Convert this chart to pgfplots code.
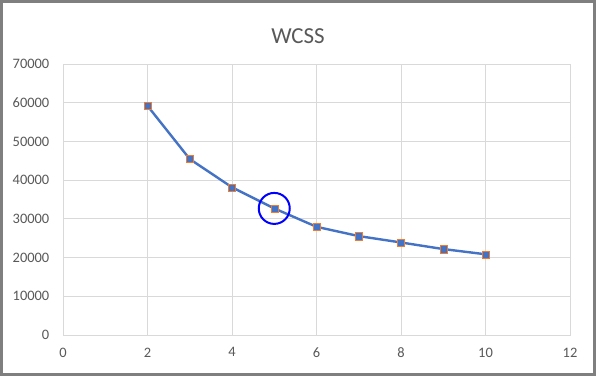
\documentclass[border=0pt]{standalone}
\usepackage{pgfplots}
\pgfplotsset{compat=1.18}
\usepackage{fontspec}
\setmainfont{Carlito}
\definecolor{txtgray}{HTML}{595959}
\definecolor{gridgray}{HTML}{D9D9D9}
\definecolor{axgray}{HTML}{BFBFBF}
\definecolor{xblue}{HTML}{4472C4}
\definecolor{xorange}{HTML}{ED7D31}
\definecolor{framegray}{HTML}{7F7F7F}
\begin{document}
\begin{tikzpicture}
\useasboundingbox (-63bp,-41bp) rectangle (533bp,335bp);
\fill[white] (-63bp,-41bp) rectangle (533bp,335bp);
\draw[framegray, line width=3bp] (-61.5bp,-39.5bp) rectangle (531.5bp,333.5bp);
\begin{axis}[
  at={(0,0)}, anchor=south west,
  scale only axis, width=507bp, height=271bp,
  xmin=0, xmax=12, ymin=0, ymax=70000,
  xtick={0,2,...,12}, ytick={0,10000,...,70000},
  grid=major,
  grid style={gridgray, line width=0.8bp},
  axis line style={gridgray, line width=0.8bp},
  x axis line style={axgray},
  major tick length=0pt,
  tick style={draw=none},
  scaled y ticks=false,
  /pgf/number format/assume math mode=true,
  /pgf/number format/set thousands separator={},
  ticklabel style={font=\fontsize{14.5}{16}\selectfont, text=txtgray},
  yticklabel style={inner sep=0pt, anchor=east, xshift=-13.5bp},
  xticklabel style={inner sep=0pt, anchor=north, yshift=-12.5bp},
  clip=false,
]
\addplot[xblue, line width=2.4bp, mark=square*, mark size=3.6bp,
  mark options={fill=xblue, draw=xorange, line width=0.3bp}]
  coordinates {
  (2,59200) (3,45450) (4,38150) (5,32700) (6,27950)
  (7,25550) (8,23900) (9,22200) (10,20850)
  };
\addplot[only marks, mark=o, mark size=15.5bp, mark options={draw=blue, line width=2bp}]
  coordinates {(5,32700)};
\end{axis}
\node[text=txtgray, font=\fontsize{23}{26}\selectfont] at (235bp,299bp) {WCSS};
\end{tikzpicture}
\end{document}
